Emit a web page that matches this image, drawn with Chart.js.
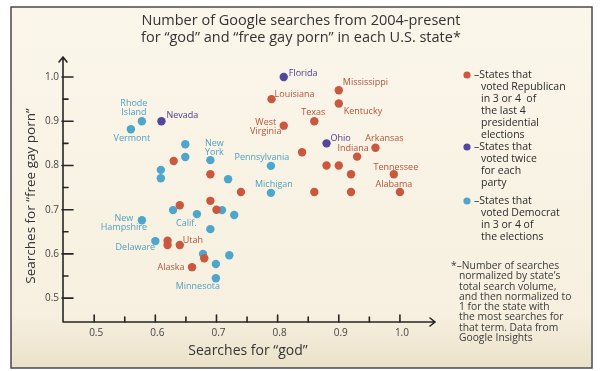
<!DOCTYPE html>
<html lang="en">
<head>
<meta charset="UTF-8">
<title>god vs free gay porn</title>
<script src="https://cdn.jsdelivr.net/npm/chart.js"></script>
<style>
  html, body { margin: 0; padding: 0; background: #fff; }
</style>
</head>
<body>
<canvas id="grafico" width="600" height="371"></canvas>
<script>
// searches for "god" (x) and "free gay porn" (y), normalized
// states that voted Republican in 3 or 4 of the last 4 elections
const repStates = ['Mississippi', 'Louisiana', 'Kentucky', 'Texas', 'West Virginia', 'Arkansas', '', 'Indiana', '', '', '', 'Tennessee', 'Alabama', '', '', '', '', '', '', '', '', '', '', 'Utah', '', 'Alaska'];
const repGod   = [0.90, 0.79, 0.90, 0.86, 0.81, 0.96, 0.84, 0.93, 0.88, 0.90, 0.92, 0.99, 1.00, 0.92, 0.86, 0.74, 0.69, 0.64, 0.70, 0.63, 0.69, 0.62, 0.62, 0.64, 0.68, 0.66];
const repPorn  = [0.97, 0.95, 0.94, 0.90, 0.89, 0.84, 0.83, 0.82, 0.80, 0.80, 0.78, 0.78, 0.74, 0.74, 0.74, 0.74, 0.72, 0.71, 0.70, 0.81, 0.78, 0.63, 0.62, 0.62, 0.59, 0.57];

// states that voted twice for each party
const swingStates = ['Florida', 'Nevada', 'Ohio'];
const swingGod    = [0.81, 0.61, 0.88];
const swingPorn   = [1.00, 0.90, 0.85];

// states that voted Democrat in 3 or 4 of the elections
const demStates = ['Rhode Island', 'Vermont', '', '', 'New York', '', '', '', 'Pennsylvania', 'Michigan', '', '', '', '', 'New Hampshire', 'Calif.', 'Delaware', '', '', '', 'Minnesota'];
const demGod    = [0.578, 0.56, 0.649, 0.649, 0.69, 0.609, 0.609, 0.719, 0.789, 0.789, 0.629, 0.709, 0.668, 0.729, 0.578, 0.69, 0.60, 0.678, 0.721, 0.699, 0.699];
const demPorn   = [0.90, 0.882, 0.848, 0.819, 0.812, 0.79, 0.771, 0.769, 0.799, 0.738, 0.699, 0.699, 0.69, 0.688, 0.676, 0.656, 0.629, 0.60, 0.597, 0.577, 0.545];

const xTicks = [0.5, 0.6, 0.7, 0.8, 0.9, 1.0];
const yTicks = [0.5, 0.6, 0.7, 0.8, 0.9, 1.0];
const xTickLabels = ['0.5', '0.6', '0.7', '0.8', '0.9', '1.0'];
const yTickLabels = ['0.5', '0.6', '0.7', '0.8', '0.9', '1.0'];

const titleLines = ['Number of Google searches from 2004-present', 'for \u201Cgod\u201D and \u201Cfree gay porn\u201D in each U.S. state*'];
const xTitle = 'Searches for \u201Cgod\u201D';
const yTitle = 'Searches for \u201Cfree gay porn\u201D';
const legendTexts = [
  ['\u2013States that', 'voted Republican', 'in 3 or 4  of', 'the last 4', 'presidential', 'elections'],
  ['\u2013States that', 'voted twice', 'for each', 'party'],
  ['\u2013States that', 'voted Democrat', 'in 3 or 4 of', 'the elections']
];
const footnote = ['*\u2013Number of searches', 'normalized by state\u2019s', 'total search volume,', 'and then normalized to', '1 for the state with', 'the most searches for', 'that term. Data from', 'Google Insights'];

// label placement: [dx, dy, align] from the dot
const labelPos = {
  'Mississippi': [4, -8, 'left'], 'Louisiana': [3, -5, 'left'], 'Kentucky': [5, 8, 'left'],
  'Texas': [-1, -9, 'center'], 'West Virginia': [-18, -3, 'center'], 'Arkansas': [9, -9, 'center'],
  'Indiana': [-4, -8, 'center'], 'Tennessee': [2, -7, 'center'], 'Alabama': [-6, -8, 'center'],
  'Utah': [13, -5, 'center'], 'Alaska': [-21, 0, 'center'],
  'Florida': [5, -4, 'left'], 'Nevada': [5, -6, 'left'], 'Ohio': [4, -5, 'left'],
  'Rhode Island': [-8, -18, 'center'], 'Vermont': [1, 9, 'center'], 'New York': [4, -17, 'center'],
  'Pennsylvania': [-9, -8, 'center'], 'Michigan': [3, -8, 'center'], 'New Hampshire': [-18, -2, 'center'],
  'Calif.': [-24, -6, 'center'], 'Delaware': [-20, 6, 'center'], 'Minnesota': [-18, 8, 'center']
};
const labelWrap = {
  'West Virginia': ['West', 'Virginia'], 'Rhode Island': ['Rhode', 'Island'],
  'New York': ['New', 'York'], 'New Hampshire': ['New', 'Hampshire']
};

const corRep = '#c9583f', corSwing = '#54469a', corDem = '#4ea6cd';
const txtRep = '#b4523c', txtSwing = '#4a3d8c', txtDem = '#4f9fc4';
const fonte = "'Open Sans', sans-serif";

function pontos(xs, ys) {
  return xs.map((v, i) => ({ x: v, y: ys[i] }));
}

const decor = {
  id: 'decor',
  beforeDraw(chart) {
    const ctx = chart.ctx;
    ctx.save();
    ctx.fillStyle = '#ffffff';
    ctx.fillRect(0, 0, 600, 371);
    const g = ctx.createLinearGradient(0, 7, 0, 368);
    g.addColorStop(0, '#faf6ea');
    g.addColorStop(0.85, '#f7f0e0');
    g.addColorStop(1, '#ebe1ca');
    ctx.fillStyle = g;
    ctx.fillRect(11, 7, 581, 361);
    ctx.strokeStyle = '#4a4a4a';
    ctx.lineWidth = 1.5;
    ctx.strokeRect(11, 7, 581, 361);

    // title
    ctx.fillStyle = '#333';
    ctx.font = '14.5px ' + fonte;
    ctx.textAlign = 'center';
    ctx.textBaseline = 'middle';
    ctx.fillText(titleLines[0], 301, 21);
    ctx.fillText(titleLines[1], 301, 38);
    ctx.restore();
  },
  beforeDatasetsDraw(chart) {
    const ctx = chart.ctx;
    const sx = chart.scales.x, sy = chart.scales.y;
    const x0 = sx.left, y0 = sy.bottom;
    ctx.save();
    ctx.strokeStyle = '#262626';
    ctx.lineWidth = 1.6;
    ctx.lineCap = 'round';
    ctx.beginPath();
    ctx.moveTo(x0, y0);
    ctx.lineTo(x0, sy.top - 1);
    ctx.moveTo(x0 - 4, sy.top + 4);
    ctx.lineTo(x0, sy.top - 1);
    ctx.lineTo(x0 + 4, sy.top + 4);
    ctx.moveTo(x0, y0);
    ctx.lineTo(sx.right + 10, y0);
    ctx.moveTo(sx.right + 5, y0 - 4);
    ctx.lineTo(sx.right + 10, y0);
    ctx.lineTo(sx.right + 5, y0 + 4);
    ctx.stroke();

    // ticks, drawn inward
    ctx.beginPath();
    for (let k = 0; k <= 10; k++) {
      const v = 0.5 + k * 0.05;
      const major = k % 2 === 0;
      const px = sx.getPixelForValue(v);
      ctx.moveTo(px, y0);
      ctx.lineTo(px, y0 - (major ? 7 : 5));
      const py = sy.getPixelForValue(v);
      ctx.moveTo(x0 - (major ? 1 : 0), py);
      ctx.lineTo(x0 + (major ? 10 : 5), py);
    }
    ctx.stroke();

    ctx.fillStyle = '#444';
    ctx.font = '10px ' + fonte;
    ctx.textBaseline = 'middle';
    ctx.textAlign = 'center';
    xTicks.forEach((v, i) => ctx.fillText(xTickLabels[i], sx.getPixelForValue(v) + 2, y0 + 11));
    ctx.textAlign = 'right';
    yTicks.forEach((v, i) => ctx.fillText(yTickLabels[i], x0 - 4, sy.getPixelForValue(v)));

    // axis titles
    ctx.fillStyle = '#333';
    ctx.font = '14px ' + fonte;
    ctx.textAlign = 'center';
    ctx.fillText(xTitle, 248, 351);
    ctx.save();
    ctx.translate(31, 196);
    ctx.rotate(-Math.PI / 2);
    ctx.font = '13.5px ' + fonte;
    ctx.fillText(yTitle, 0, 0);
    ctx.restore();
    ctx.restore();
  },
  afterDatasetsDraw(chart) {
    const ctx = chart.ctx;
    ctx.save();
    ctx.font = '9px ' + fonte;
    ctx.textBaseline = 'middle';
    const grupos = [[0, repStates, txtRep], [1, swingStates, txtSwing], [2, demStates, txtDem]];
    grupos.forEach(([ds, nomes, cor]) => {
      const meta = chart.getDatasetMeta(ds);
      ctx.fillStyle = cor;
      nomes.forEach((nome, i) => {
        if (!nome) return;
        const p = meta.data[i];
        const pos = labelPos[nome];
        const linhas = labelWrap[nome] || [nome];
        ctx.textAlign = pos[2];
        linhas.forEach((t, j) => ctx.fillText(t, p.x + pos[0], p.y + pos[1] + j * 9));
      });
    });

    // legend
    const legY = [75, 147, 201];
    const legCor = [corRep, corSwing, corDem];
    ctx.font = '10.5px ' + fonte;
    ctx.textAlign = 'left';
    legendTexts.forEach((linhas, k) => {
      ctx.fillStyle = legCor[k];
      ctx.beginPath();
      ctx.arc(467, legY[k], 3.6, 0, Math.PI * 2);
      ctx.fill();
      ctx.fillStyle = '#2b2b2b';
      linhas.forEach((t, j) => ctx.fillText(t, j === 0 ? 474 : 481, legY[k] + j * 12));
    });

    // footnote
    ctx.fillStyle = '#3a3a3a';
    ctx.font = '10.3px ' + fonte;
    footnote.forEach((t, j) => ctx.fillText(t, j === 0 ? 451 : 459, 266 + j * 10.3));
    ctx.restore();
  }
};

const config = {
  type: 'scatter',
  data: {
    datasets: [
      { label: 'Republican', data: pontos(repGod, repPorn), backgroundColor: corRep },
      { label: 'Twice each', data: pontos(swingGod, swingPorn), backgroundColor: corSwing },
      { label: 'Democrat', data: pontos(demGod, demPorn), backgroundColor: corDem }
    ]
  },
  options: {
    responsive: false,
    animation: false,
    clip: false,
    layout: { padding: { left: 63, right: 175, top: 58, bottom: 49 } },
    elements: { point: { radius: 4.2, borderWidth: 0 } },
    plugins: { legend: { display: false }, tooltip: { enabled: false } },
    scales: {
      x: { type: 'linear', display: false, min: 0.449, max: 1.041 },
      y: { type: 'linear', display: false, min: 0.446, max: 1.043 }
    }
  },
  plugins: [decor]
};

new Chart(document.getElementById('grafico').getContext('2d'), config);
</script>
</body>
</html>
